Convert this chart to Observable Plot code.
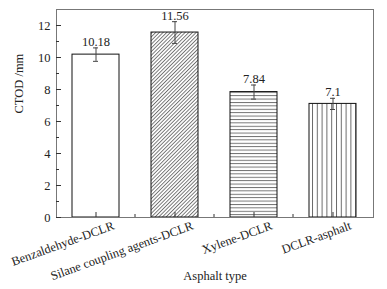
<!DOCTYPE html>
<html><head><meta charset="utf-8">
<script src="https://cdn.jsdelivr.net/npm/d3@7"></script>
<script src="https://cdn.jsdelivr.net/npm/@observablehq/plot@0.6"></script>
<style>body{margin:0;background:#fff}</style>
</head><body><div id="chart"></div>
<script>
const categories = ["Benzaldehyde-DCLR", "Silane coupling agents-DCLR", "Xylene-DCLR", "DCLR-asphalt"];
const values = [10.18, 11.56, 7.84, 7.1];
const errors = [0.42, 0.68, 0.44, 0.35];
const valueLabels = ["10.18", "11.56", "7.84", "7.1"];
const yTicks = [0, 2, 4, 6, 8, 10, 12];
const yMinorTicks = [1, 3, 5, 7, 9, 11];

const fills = ["white", "url(#hatchDiag)", "url(#hatchH)", "url(#hatchV)"];
const data = categories.map((c, i) => ({cat: c, value: values[i], err: errors[i], label: valueLabels[i]}));

function defsMark() {
  const defs = d3.create("svg:defs");
  const p1 = defs.append("pattern").attr("id", "hatchDiag").attr("patternUnits", "userSpaceOnUse")
    .attr("width", 2.6).attr("height", 10).attr("patternTransform", "rotate(45)");
  p1.append("rect").attr("width", 2.6).attr("height", 10).attr("fill", "white");
  p1.append("line").attr("x1", 0.5).attr("y1", 0).attr("x2", 0.5).attr("y2", 10).attr("stroke", "#333").attr("stroke-width", 0.7);
  const p2 = defs.append("pattern").attr("id", "hatchH").attr("patternUnits", "userSpaceOnUse")
    .attr("width", 10).attr("height", 3.4);
  p2.append("rect").attr("width", 10).attr("height", 3.4).attr("fill", "white");
  p2.append("line").attr("x1", 0).attr("y1", 0.5).attr("x2", 10).attr("y2", 0.5).attr("stroke", "#444").attr("stroke-width", 0.8);
  const p3 = defs.append("pattern").attr("id", "hatchV").attr("patternUnits", "userSpaceOnUse")
    .attr("width", 4.8).attr("height", 10);
  p3.append("rect").attr("width", 4.8).attr("height", 10).attr("fill", "white");
  p3.append("line").attr("x1", 0.5).attr("y1", 0).attr("x2", 0.5).attr("y2", 10).attr("stroke", "#444").attr("stroke-width", 0.8);
  return defs.node();
}

function minorXTicks(index, scales, values, dims) {
  const x = scales.x, bw = x.bandwidth ? x.bandwidth() : 0;
  const y0 = dims.height - dims.marginBottom;
  const g = d3.create("svg:g").attr("stroke", "#333");
  for (let i = 1; i < categories.length; i++) {
    const xm = (x(categories[i - 1]) + x(categories[i])) / 2 + bw / 2;
    g.append("line").attr("x1", xm).attr("x2", xm).attr("y1", y0).attr("y2", y0 - 3);
  }
  return g.node();
}

const chart = Plot.plot({
  width: 387,
  height: 289,
  marginLeft: 56,
  marginRight: 14,
  marginTop: 9,
  marginBottom: 72,
  style: {fontFamily: "Liberation Serif", fontSize: "12px", color: "#222", background: "white"},
  x: {domain: categories, paddingInner: 0.4, paddingOuter: 0.2},
  y: {domain: [0, 13]},
  marks: [
    defsMark,
    ...data.map((d, i) => Plot.barY([d], {x: "cat", y: "value", fill: fills[i], stroke: "#111", strokeWidth: 1})),
    Plot.ruleX(data, {x: "cat", y1: d => d.value - d.err, y2: d => d.value + d.err, stroke: "#444"}),
    Plot.tickY(data, {x: "cat", y: d => d.value - d.err, insetLeft: 21, insetRight: 21, stroke: "#444"}),
    Plot.tickY(data, {x: "cat", y: d => d.value + d.err, insetLeft: 21, insetRight: 21, stroke: "#444"}),
    Plot.text(data, {x: "cat", y: d => d.value + d.err, text: "label", dy: -2, lineAnchor: "bottom", fontSize: 12.5, fill: "#222"}),
    Plot.frame({stroke: "#777"}),
    Plot.axisY({ticks: yTicks, tickSize: -5, tickPadding: 11, fontSize: 12.5, label: null, stroke: "#333"}),
    Plot.axisY({ticks: yMinorTicks, tickSize: -3, tickFormat: () => "", label: null, stroke: "#333"}),
    Plot.axisX({tickSize: -5, tickFormat: () => "", label: null, stroke: "#333"}),
    minorXTicks,
    Plot.text(categories, {x: d => d, frameAnchor: "bottom", rotate: -20, textAnchor: "end", lineAnchor: "top", dx: 16, dy: 3, fontSize: 12.5, fill: "#222"}),
    Plot.text(["CTOD /mm"], {frameAnchor: "left", rotate: -90, dx: -38, fontSize: 12.5, fill: "#222"}),
    Plot.text(["Asphalt type"], {frameAnchor: "bottom", dy: 62, fontSize: 12.5, fill: "#222"})
  ]
});
document.getElementById("chart").appendChild(chart);
</script>
</body></html>
